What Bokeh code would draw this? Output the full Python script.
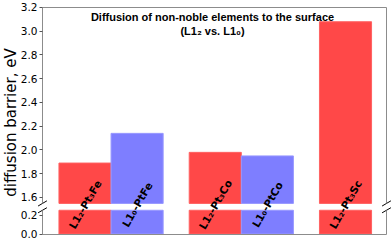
import numpy as np
from bokeh.plotting import figure
from bokeh.models import (Range1d, LinearAxis, FixedTicker,
                          ColumnDataSource, PrintfTickFormatter)
from bokeh.core.properties import value
from bokeh.embed import file_html
from bokeh.resources import INLINE

# ---------------- data ----------------
alloys = ["L1₂-Pt₃Fe", "L1₀-PtFe", "L1₂-Pt₃Co", "L1₀-PtCo", "L1₂-Pt₃Sc"]
phases = ["L1₂", "L1₀", "L1₂", "L1₀", "L1₂"]
bar_x = [0.0, 1.0, 2.5, 3.5, 5.0]
barrier = [1.89, 2.14, 1.98, 1.95, 3.08]
top_ticks = [1.6, 1.8, 2.0, 2.2, 2.4, 2.6, 2.8, 3.0, 3.2]
low_ticks = [0.0, 0.2]
title_lines = ["Diffusion of non-noble elements to the surface", "(L1₂ vs. L1₀)"]
y_label = "diffusion barrier, eV"

# ---------------- layout / style ----------------
TOP_LO, TOP_HI = 1.55, 3.2      # upper panel limits
LOW_LO, LOW_HI = 0.0, 0.25      # lower panel limits
X_LO, X_HI = -0.816, 5.787      # spine positions (x data units)
fill = {"L1₂": "#ff4848", "L1₀": "#7e7eff"}
edge = {"L1₂": "#ff6262", "L1₀": "#9898ff"}
SPINE = "#8c8c8c"
TICK = "#555555"

# the frame covers the whole canvas; spines are drawn as fixed axes inside it
p = figure(width=392, height=241, output_backend="svg", toolbar_location=None,
           x_range=Range1d(-1.622, 5.902), y_range=Range1d(1.2294, 3.2589),
           x_axis_location=None, y_axis_location=None,
           min_border_left=0, min_border_right=0, min_border_top=0,
           min_border_bottom=0)
p.extra_y_ranges = {"low": Range1d(-0.0789, 2.4579)}
p.outline_line_color = None
p.background_fill_color = "white"
p.border_fill_color = "white"
p.grid.visible = False


def make_axis(ticks, with_labels, **kw):
    ax = LinearAxis(ticker=FixedTicker(ticks=ticks), axis_line_color=SPINE,
                    axis_line_width=1, minor_tick_line_color=None, **kw)
    if with_labels:
        ax.major_tick_line_color = TICK
        ax.major_tick_out = 3
        ax.major_tick_in = 0
        ax.major_label_standoff = 2
        ax.major_label_text_font = "DejaVu Sans"
        ax.major_label_text_font_size = "10.5px"
        ax.major_label_text_color = "black"
        ax.formatter = PrintfTickFormatter(format="%.1f")
    else:
        ax.major_tick_line_color = None
        ax.major_label_text_font_size = "0px"
    return ax


# left axes (upper and lower panel)
p.add_layout(make_axis(top_ticks, True, fixed_location=X_LO,
                       bounds=(TOP_LO, TOP_HI)), "left")
p.add_layout(make_axis(low_ticks, True, fixed_location=X_LO,
                       bounds=(LOW_LO, LOW_HI), y_range_name="low"), "left")
# right spines
p.add_layout(make_axis([], False, fixed_location=X_HI,
                       bounds=(TOP_LO, TOP_HI)), "right")
p.add_layout(make_axis([], False, fixed_location=X_HI,
                       bounds=(LOW_LO, LOW_HI), y_range_name="low"), "right")
# top and bottom spines
p.add_layout(make_axis([], False, fixed_location=TOP_HI,
                       bounds=(X_LO, X_HI)), "above")
p.add_layout(make_axis([], False, fixed_location=LOW_LO,
                       bounds=(X_LO, X_HI), y_range_name="low"), "below")

src = ColumnDataSource(dict(
    x=bar_x,
    top=barrier,
    low_top=list(np.minimum(barrier, LOW_HI)),
    fill=[fill[ph] for ph in phases],
    edge=[edge[ph] for ph in phases],
))

p.vbar(x="x", top="top", bottom=TOP_LO, width=1.0, fill_color="fill",
       line_color="edge", line_width=1, source=src)
p.vbar(x="x", top="low_top", bottom=LOW_LO, width=1.0, fill_color="fill",
       line_color="edge", line_width=1, source=src, y_range_name="low")

# break marks
dx, dyt, dyl = 0.085, 0.022, 0.027
p.segment(x0=[X_LO - dx, X_HI - dx], y0=[TOP_LO - dyt] * 2,
          x1=[X_LO + dx, X_HI + dx], y1=[TOP_LO + dyt] * 2,
          line_color="black", line_width=1)
p.segment(x0=[X_LO - dx, X_HI - dx], y0=[LOW_HI - dyl] * 2,
          x1=[X_LO + dx, X_HI + dx], y1=[LOW_HI + dyl] * 2,
          line_color="black", line_width=1, y_range_name="low")

# bar labels across the break
p.text(x=bar_x, y=[TOP_LO] * len(bar_x), text=alloys, angle=60,
       angle_units="deg", text_align="center", text_baseline="middle",
       text_font=value("DejaVu Sans"), text_font_style="bold",
       text_font_size="10.5px", text_color="black", y_offset=1)

# title inside the plot
mid = (X_LO + X_HI) / 2
p.text(x=[mid, mid], y=[TOP_HI, TOP_HI], text=title_lines,
       x_offset=-2, y_offset=[10, 23.5], text_align="center",
       text_baseline="alphabetic", text_font=value("Liberation Sans"),
       text_font_style="bold", text_font_size="11px", text_color="black")

# y label spanning both panels
p.text(x=[X_LO], y=[2.2315], text=[y_label], x_offset=-31, angle=90,
       angle_units="deg", text_align="center", text_baseline="alphabetic",
       text_font=value("DejaVu Sans"), text_font_size="15px",
       text_color="black")

open("out.html", "w").write(file_html(p, INLINE))
